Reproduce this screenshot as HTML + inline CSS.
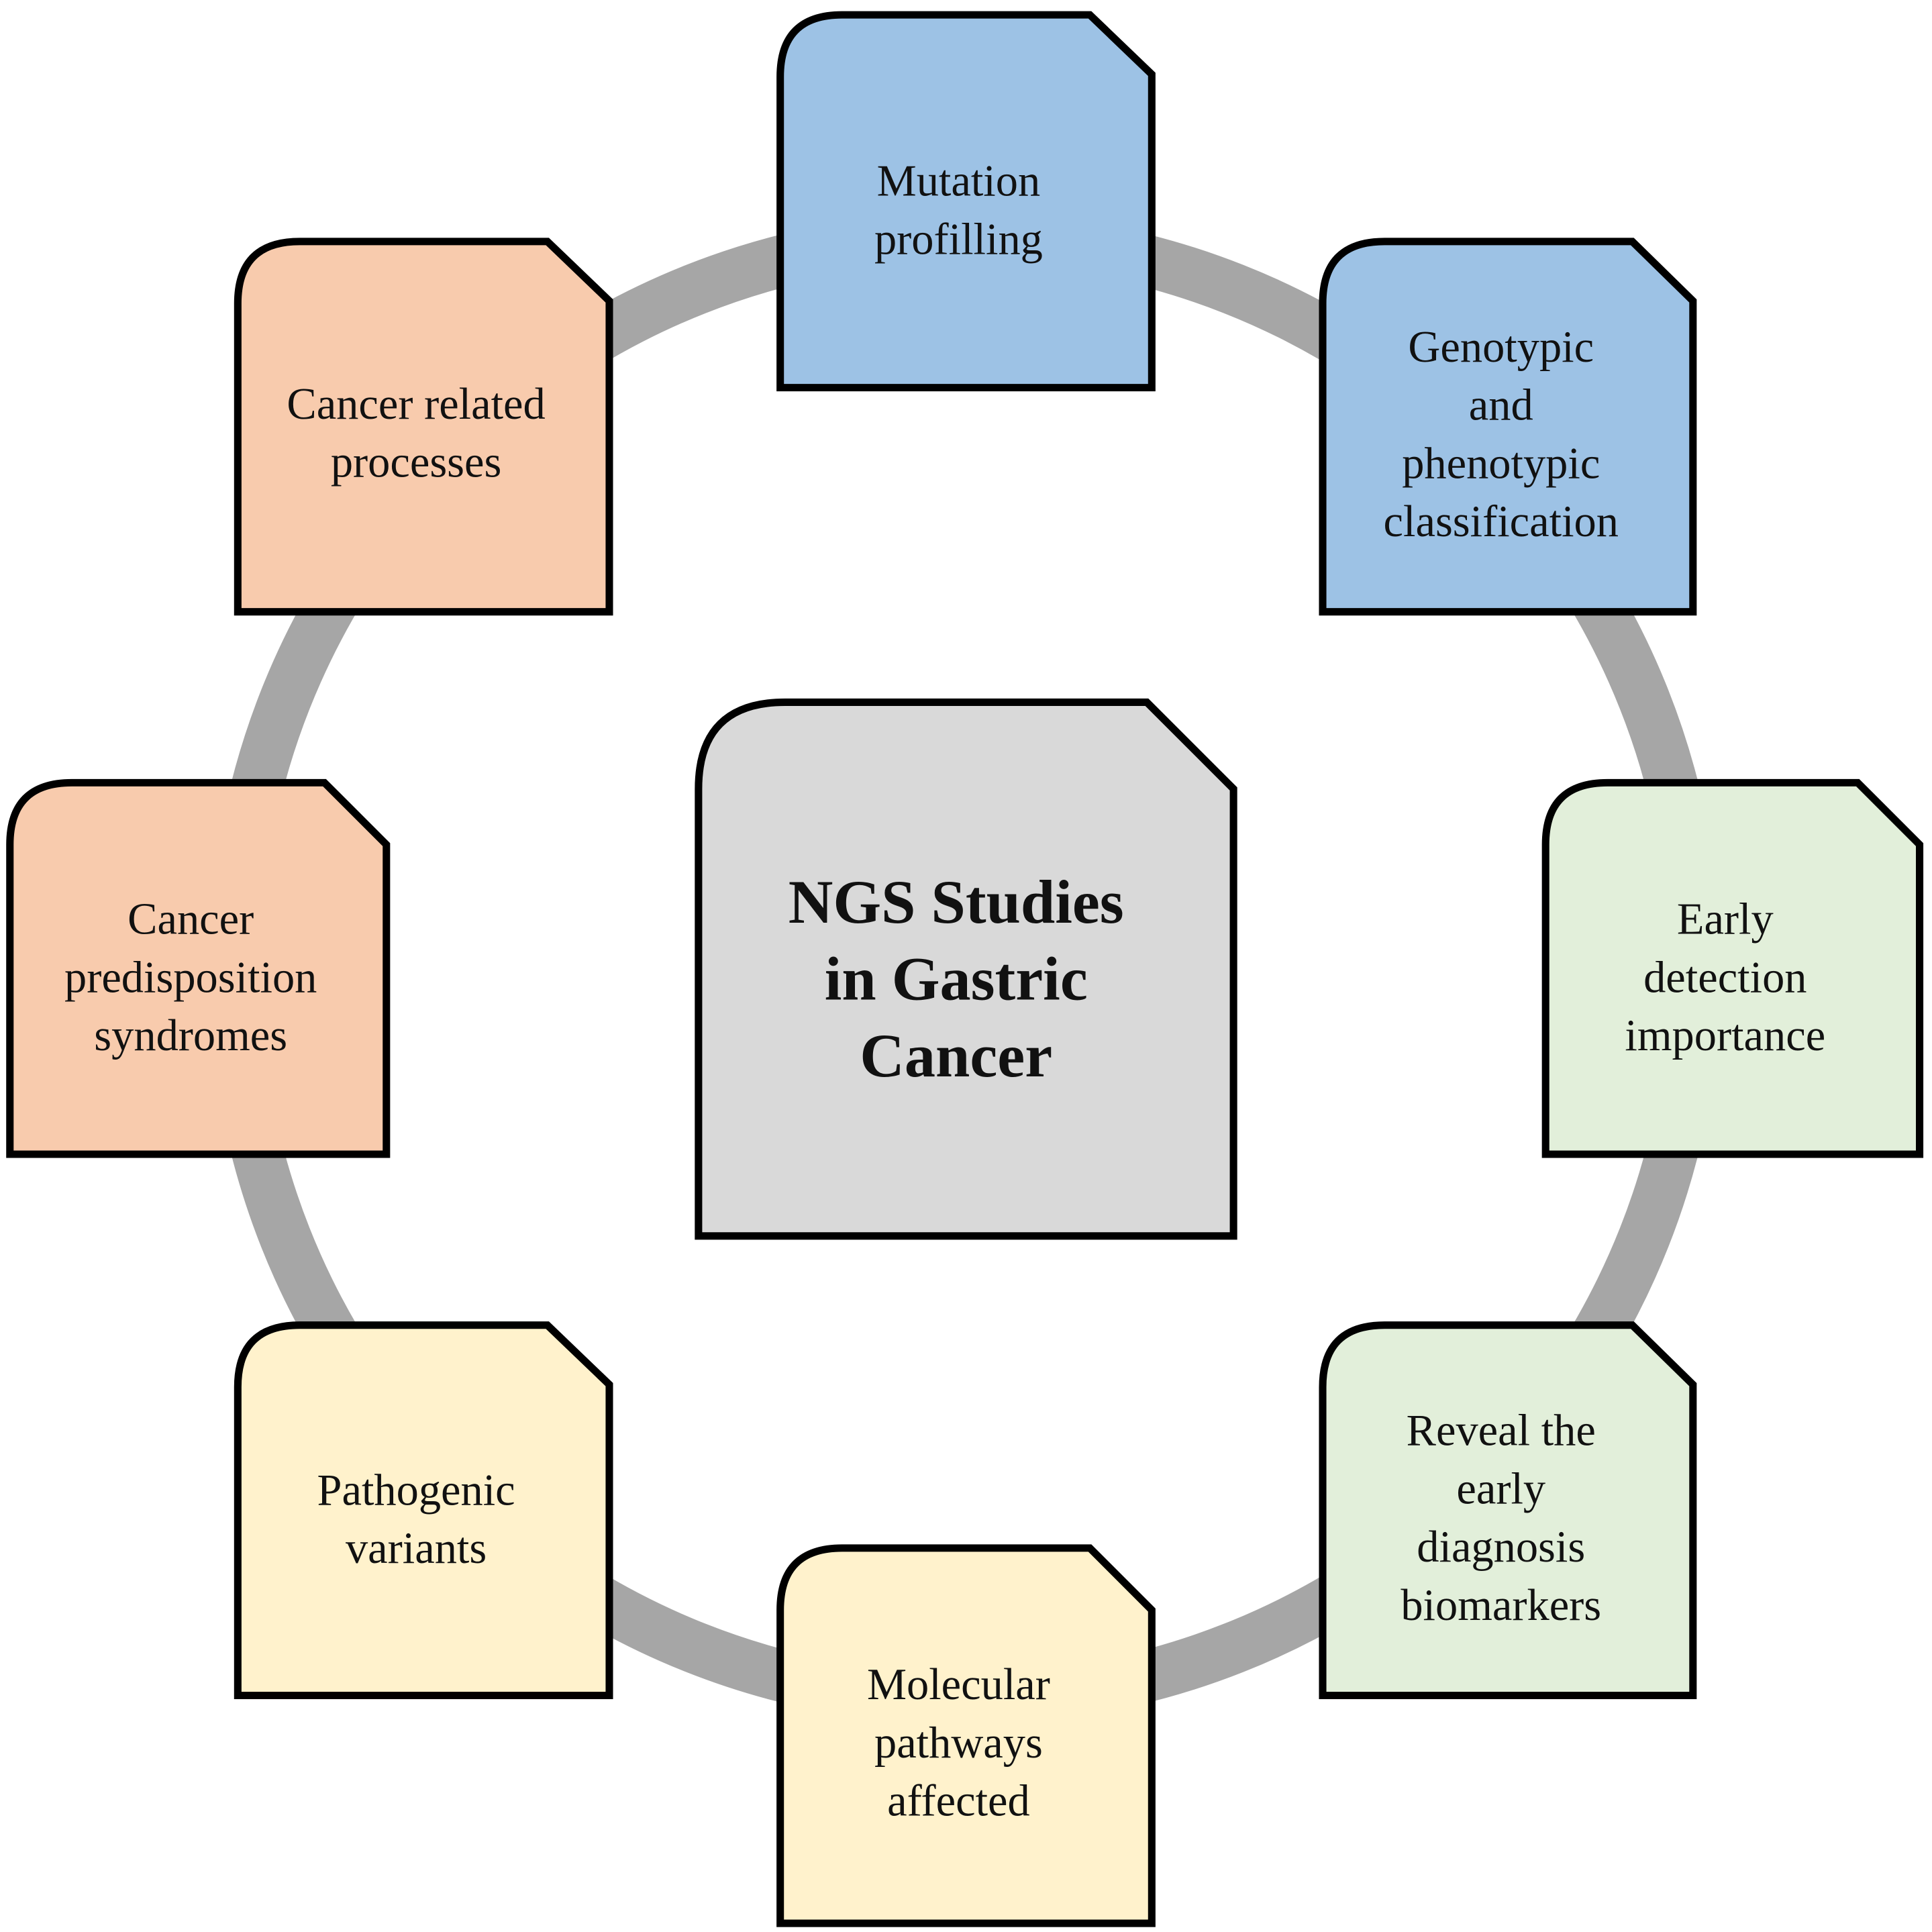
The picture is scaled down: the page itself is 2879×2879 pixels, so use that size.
<!DOCTYPE html>
<html><head><meta charset="utf-8"><style>
html,body{margin:0;padding:0;background:#fff;}
svg{display:block;}
text{font-family:"Liberation Serif",serif;fill:#111;text-anchor:middle;}
</style></head><body>
<svg width="2879" height="2879" viewBox="0 0 1560 1560" xmlns="http://www.w3.org/2000/svg">
<circle cx="779" cy="782" r="590" fill="none" stroke="#a6a6a6" stroke-width="42"/>
<defs></defs>
<g stroke="#000" stroke-width="6" stroke-linejoin="miter">
<path d="M630,313 V62 Q630,12 680,12 H880 L930,60 V313 Z" fill="#9dc2e5"/>
<path d="M1068,494 V245 Q1068,195 1118,195 H1318 L1367,243 V494 Z" fill="#9dc2e5"/>
<path d="M1248,932 V682 Q1248,632 1298,632 H1500 L1550,682 V932 Z" fill="#e2efda"/>
<path d="M1068,1369 V1120 Q1068,1070 1118,1070 H1318 L1367,1118 V1369 Z" fill="#e2efda"/>
<path d="M630,1553 V1300 Q630,1250 680,1250 H880 L930,1300 V1553 Z" fill="#fff2cc"/>
<path d="M192,1369 V1120 Q192,1070 242,1070 H442 L492,1118 V1369 Z" fill="#fff2cc"/>
<path d="M8,932 V682 Q8,632 58,632 H262 L312,682 V932 Z" fill="#f8cbad"/>
<path d="M192,494 V245 Q192,195 242,195 H442 L492,243 V494 Z" fill="#f8cbad"/>
<path d="M564,998 V637 Q564,567 634,567 H926 L996,637 V998 Z" fill="#d9d9d9"/>
</g>
<g font-size="36">
<text x="774" y="158">Mutation</text><text x="774" y="205">profilling</text>
<text x="1212" y="292">Genotypic</text><text x="1212" y="339">and</text><text x="1212" y="386">phenotypic</text><text x="1212" y="433">classification</text>
<text x="1393" y="754">Early</text><text x="1393" y="801">detection</text><text x="1393" y="848">importance</text>
<text x="1212" y="1167">Reveal the</text><text x="1212" y="1214">early</text><text x="1212" y="1261">diagnosis</text><text x="1212" y="1308">biomarkers</text>
<text x="774" y="1372">Molecular</text><text x="774" y="1419">pathways</text><text x="774" y="1466">affected</text>
<text x="336" y="1215">Pathogenic</text><text x="336" y="1262">variants</text>
<text x="154" y="754">Cancer</text><text x="154" y="801">predisposition</text><text x="154" y="848">syndromes</text>
<text x="336" y="338">Cancer related</text><text x="336" y="385">processes</text>
</g>
<g font-size="50" font-weight="bold">
<text x="772" y="745">NGS Studies</text><text x="772" y="807">in Gastric</text><text x="772" y="869">Cancer</text>
</g>
</svg>
</body></html>
